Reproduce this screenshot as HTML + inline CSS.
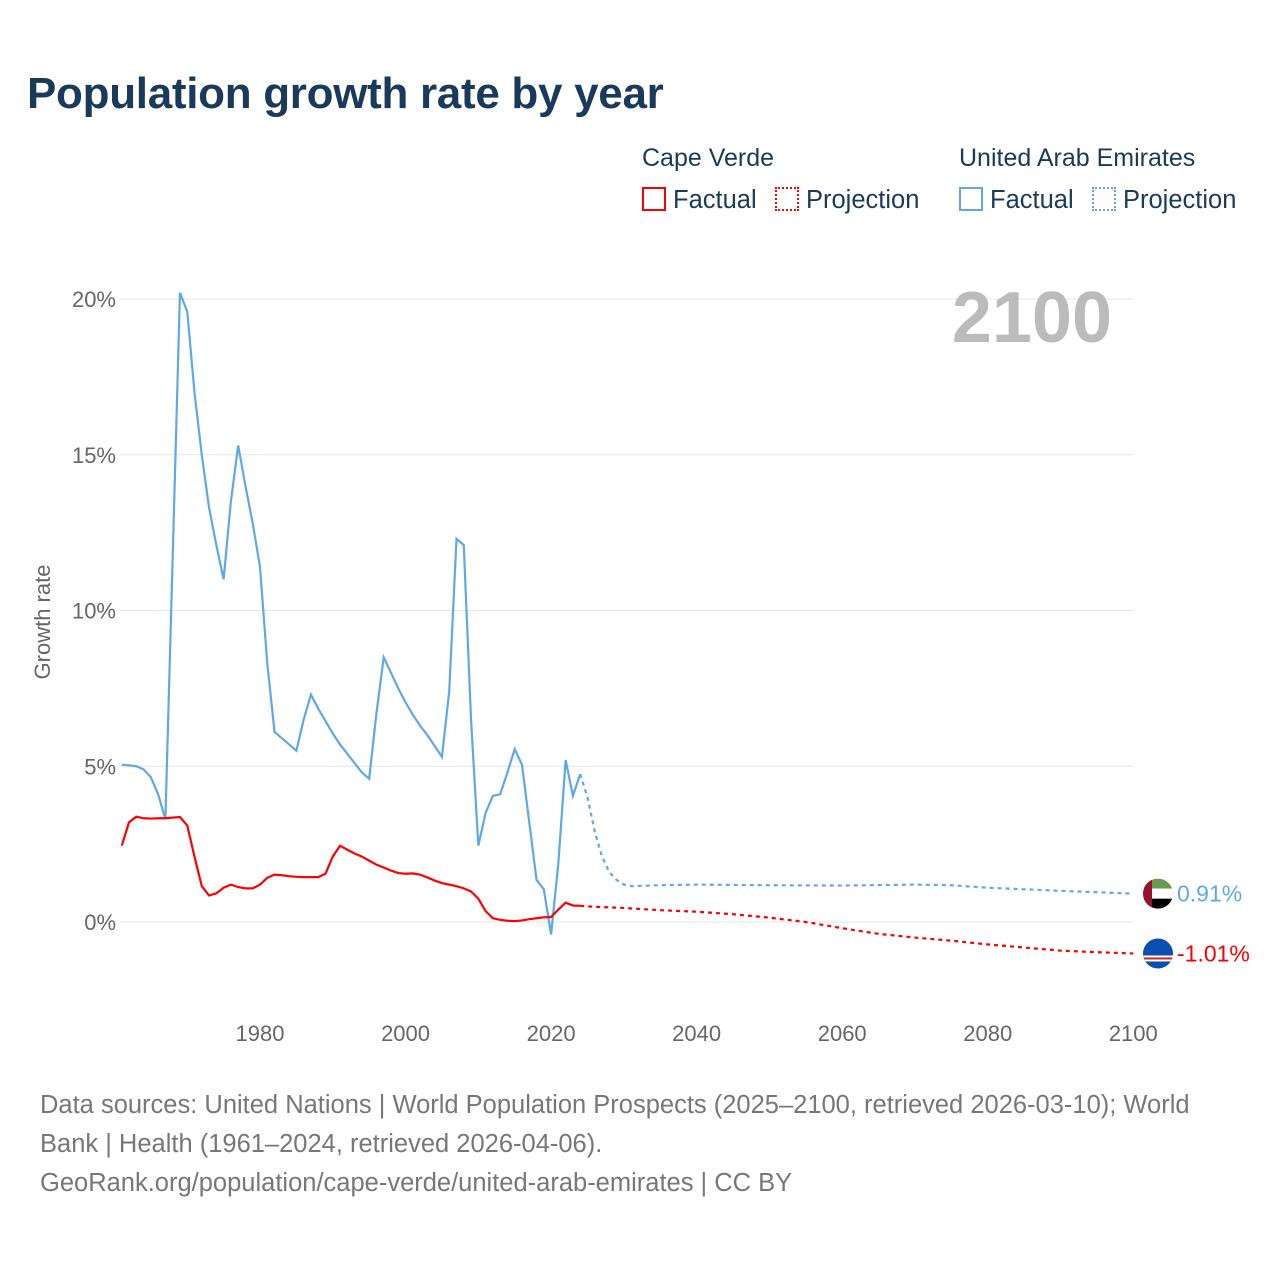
<!DOCTYPE html>
<html><head><meta charset="utf-8"><style>
body{margin:0;background:#fff;font-family:"Liberation Sans",sans-serif;}
#wrap{position:relative;width:1280px;height:1280px;overflow:hidden;}
.t{position:absolute;white-space:nowrap;}
</style></head><body>
<div id="wrap">
<div class="t" style="left:27px;top:69px;font-size:44px;font-weight:bold;color:#1a3a5c;letter-spacing:-0.3px">Population growth rate by year</div>
<div class="t" style="left:642px;top:144px;font-size:25px;color:#1a3a5c;">Cape Verde</div>
<div class="t" style="left:959px;top:144px;font-size:25px;color:#1a3a5c;">United Arab Emirates</div>
<div class="t" style="left:642px;top:186px;font-size:25.5px;color:#1a3a5c;"><span style="display:inline-block;width:24px;height:24px;border:2px solid #f00;box-sizing:border-box;vertical-align:-3px;margin-right:7px"></span>Factual</div>
<div class="t" style="left:775px;top:186px;font-size:25.5px;color:#1a3a5c;"><span style="display:inline-block;width:24px;height:24px;border:2px dotted #f00;box-sizing:border-box;vertical-align:-3px;margin-right:7px"></span>Projection</div>
<div class="t" style="left:959px;top:186px;font-size:25.5px;color:#1a3a5c;"><span style="display:inline-block;width:24px;height:24px;border:2px solid #5fa8e8;box-sizing:border-box;vertical-align:-3px;margin-right:7px"></span>Factual</div>
<div class="t" style="left:1092px;top:186px;font-size:25.5px;color:#1a3a5c;"><span style="display:inline-block;width:24px;height:24px;border:2px dotted #5fa8e8;box-sizing:border-box;vertical-align:-3px;margin-right:7px"></span>Projection</div>
<svg id="chart" width="1280" height="1280" style="position:absolute;left:0;top:0"></svg>
<div class="t" style="left:40px;top:1086px;font-size:25.5px;line-height:39px;color:#777;">Data sources: United Nations | World Population Prospects (2025–2100, retrieved 2026-03-10); World<br>Bank | Health (1961–2024, retrieved 2026-04-06).<br>GeoRank.org/population/cape-verde/united-arab-emirates | CC BY</div>
</div>
<script>
const xTicks=[1980,2000,2020,2040,2060,2080,2100];
const yTicks=[0,5,10,15,20];
const uaeFactYears=[1961,1962,1963,1964,1965,1966,1967,1968,1969,1970,1971,1972,1973,1974,1975,1976,1977,1978,1979,1980,1981,1982,1983,1984,1985,1986,1987,1988,1989,1990,1991,1992,1993,1994,1995,1996,1997,1998,1999,2000,2001,2002,2003,2004,2005,2006,2007,2008,2009,2010,2011,2012,2013,2014,2015,2016,2017,2018,2019,2020,2021,2022,2023,2024];
const uaeFact=[5.05,5.03,5.0,4.9,4.65,4.1,3.3,11.7,20.2,19.6,17.0,15.0,13.3,12.1,11.0,13.5,15.3,14.0,12.8,11.4,8.3,6.1,5.9,5.7,5.5,6.5,7.3,6.85,6.45,6.05,5.7,5.4,5.1,4.8,4.6,6.7,8.5,8.0,7.5,7.05,6.65,6.3,6.0,5.65,5.3,7.4,12.3,12.1,6.5,2.45,3.5,4.05,4.1,4.8,5.55,5.05,3.2,1.35,1.05,-0.4,1.9,5.2,4.05,4.75];
const uaeProjYears=[2024,2025,2026,2027,2028,2029,2030,2031,2035,2040,2050,2060,2070,2075,2080,2090,2100];
const uaeProj=[4.75,4.0,2.9,2.1,1.6,1.35,1.2,1.15,1.18,1.2,1.18,1.17,1.2,1.18,1.1,1.0,0.91];
const cvFact=[2.45,3.2,3.38,3.33,3.32,3.33,3.33,3.35,3.37,3.1,2.1,1.15,0.85,0.92,1.1,1.2,1.12,1.08,1.08,1.2,1.42,1.52,1.5,1.47,1.45,1.44,1.44,1.44,1.55,2.1,2.45,2.32,2.2,2.1,1.97,1.84,1.75,1.65,1.57,1.55,1.56,1.52,1.43,1.33,1.25,1.2,1.15,1.08,0.98,0.75,0.35,0.12,0.07,0.04,0.03,0.05,0.09,0.12,0.15,0.16,0.4,0.62,0.53,0.52];
const cvProjYears=[2024,2025,2030,2035,2040,2045,2050,2055,2060,2065,2070,2075,2080,2085,2090,2095,2100];
const cvProj=[0.52,0.5,0.45,0.38,0.33,0.25,0.14,0.0,-0.2,-0.38,-0.5,-0.6,-0.72,-0.82,-0.92,-0.97,-1.01];
const X=y=>260+(y-1980)*7.2775;
const Y=v=>922-v*31.15;
const NS="http://www.w3.org/2000/svg";
const svg=document.getElementById('chart');
function mk(t,a){const e=document.createElementNS(NS,t);for(const k in a)e.setAttribute(k,a[k]);svg.appendChild(e);return e;}
for(const v of yTicks){
 const g=mk('line',{x1:120,x2:1133,y1:Y(v),y2:Y(v),stroke:'#e6e6e6','stroke-width':1});
 
 
 const t=mk('text',{x:116,y:Y(v)+8,'text-anchor':'end','font-size':22,fill:'#666','font-family':'Liberation Sans, sans-serif'});
 t.textContent=v+'%';
 
 
}
for(const yr of xTicks){
 const t=mk('text',{x:X(yr),y:1041,'text-anchor':'middle','font-size':22,fill:'#666','font-family':'Liberation Sans, sans-serif'});
 t.textContent=yr;
 
 
}
const yt=mk('text',{x:50,y:622,'text-anchor':'middle','font-size':22,fill:'#666',transform:'rotate(-90 50 622)','font-family':'Liberation Sans, sans-serif'});
yt.textContent='Growth rate';


const yr=mk('text',{x:1112,y:342,'text-anchor':'end','font-size':72,'font-weight':'bold',fill:'#bbb','font-family':'Liberation Sans, sans-serif'});
yr.textContent='2100';


function line(xs,vs,col,dash,name){
 const p=mk('polyline',{points:xs.map((x,i)=>X(x)+','+Y(vs[i])).join(' '),fill:'none',stroke:col,'stroke-width':2.2,'stroke-dasharray':dash||'none'});
 
 
}
line(uaeFactYears,uaeFact,'#5fa8e8',null,'uae-factual-line');
line(uaeProjYears,uaeProj,'#5fa8e8','4 4','uae-projection-line');
line(uaeFactYears,cvFact,'#f00',null,'cv-factual-line');
line(cvProjYears,cvProj,'#f00','4 4','cv-projection-line');
const uy=Y(uaeProj[uaeProj.length-1]),cy=Y(cvProj[cvProj.length-1]);
const f1=mk('g',{});


f1.innerHTML=`<clipPath id="c1"><circle cx="1158" cy="${uy}" r="15"/></clipPath><g clip-path="url(#c1)"><rect x="1143" y="${uy-15}" width="30" height="10" fill="#6a9a50"/><rect x="1143" y="${uy-5}" width="30" height="10" fill="#fff"/><rect x="1143" y="${uy+5}" width="30" height="10" fill="#000"/><rect x="1143" y="${uy-15}" width="9" height="30" fill="#9a1030"/></g>`;
const f2=mk('g',{});


f2.innerHTML=`<clipPath id="c2"><circle cx="1158" cy="${cy}" r="15"/></clipPath><g clip-path="url(#c2)"><rect x="1143" y="${cy-15}" width="30" height="30" fill="#0a4fb0"/><rect x="1143" y="${cy+2}" width="30" height="6" fill="#fff"/><rect x="1143" y="${cy+4}" width="30" height="2" fill="#cf2027"/></g>`;
const l1=mk('text',{x:1177,y:uy+8,'font-size':23,fill:'#5fa8e8','font-family':'Liberation Sans, sans-serif'});
l1.textContent='0.91%';


const l2=mk('text',{x:1177,y:cy+8,'font-size':23,fill:'#f00','font-family':'Liberation Sans, sans-serif'});
l2.textContent='-1.01%';


</script>
</body></html>
